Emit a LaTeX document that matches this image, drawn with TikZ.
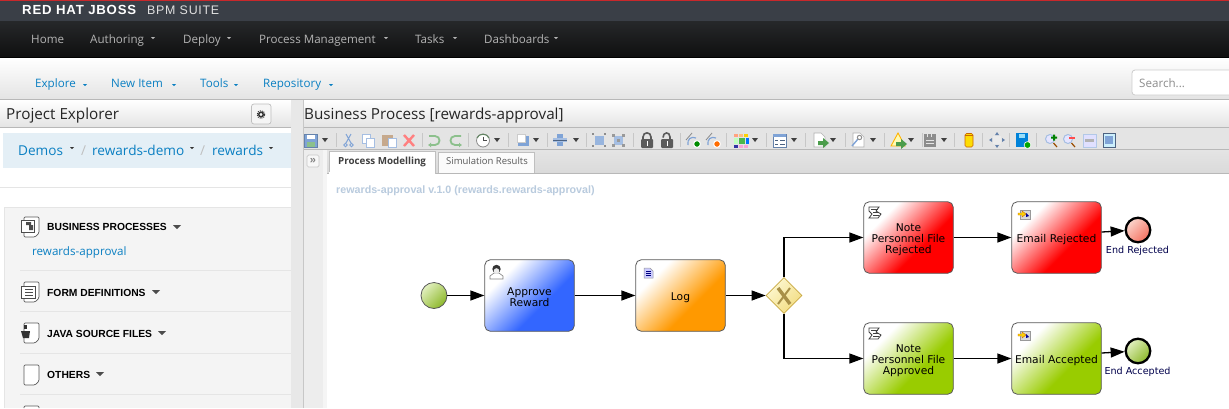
\documentclass[tikz,border=0pt]{standalone}
\usepackage{fontspec}
\setmainfont{Liberation Sans}
\newfontfamily\opens{Open Sans}
\newfontfamily\dejav{DejaVu Sans}
\newfontfamily\brandf[LetterSpace=6]{Liberation Sans}
\usetikzlibrary{shapes.geometric,arrows.meta}
\definecolor{linkb}{HTML}{0A7FC2}
\definecolor{navt}{HTML}{B4B4B4}
\definecolor{lineg}{HTML}{B8B8B8}
\definecolor{cbar}{HTML}{3A3F47}
\definecolor{cnavt}{HTML}{26282A}
\definecolor{cnavb}{HTML}{0F0F0F}
\definecolor{credl}{HTML}{C8282B}
\definecolor{cmenub}{HTML}{E4E4E4}
\definecolor{cband}{HTML}{E4E4E4}
\definecolor{cbandb}{HTML}{DADADA}
\definecolor{ccrumb}{HTML}{E4EFF6}
\definecolor{cpanel}{HTML}{F4F4F4}
\definecolor{cstrip}{HTML}{E8E8E8}
\definecolor{ctitle}{HTML}{B9CBDE}
\definecolor{cgold}{HTML}{C8A840}
\definecolor{cgreend}{HTML}{8DB82A}
\definecolor{cgreenl}{HTML}{E2F0C0}
\definecolor{csalmon}{HTML}{F4705F}
\definecolor{cpink}{HTML}{FBD5CC}
\definecolor{cgwl}{HTML}{FDF8D2}
\definecolor{cgwd}{HTML}{F2DC80}
\definecolor{cx}{HTML}{A89048}
\definecolor{ticon}{HTML}{7FA3D6}
\definecolor{tgreen}{HTML}{8CC08C}
\definecolor{tdark}{HTML}{5A5A5A}
\pgfdeclareverticalshading{gradr}{100bp}{rgb(0bp)=(1,0,0);rgb(40bp)=(1,0,0);rgb(70bp)=(1,1,1);rgb(100bp)=(1,1,1)}
\pgfdeclareverticalshading{gradg}{100bp}{rgb(0bp)=(0.6,0.8,0);rgb(40bp)=(0.6,0.8,0);rgb(70bp)=(1,1,1);rgb(100bp)=(1,1,1)}
\pgfdeclareverticalshading{gradb}{100bp}{rgb(0bp)=(0.2,0.4,1);rgb(40bp)=(0.2,0.4,1);rgb(70bp)=(1,1,1);rgb(100bp)=(1,1,1)}
\pgfdeclareverticalshading{grado}{100bp}{rgb(0bp)=(1,0.6,0);rgb(40bp)=(1,0.6,0);rgb(70bp)=(1,1,1);rgb(100bp)=(1,1,1)}
\tikzset{
 x=1pt,y=-1pt,
 txt/.style={inner sep=0pt,anchor=base west,font=\opens\fontsize{#1}{#1}\selectfont},
 navitem/.style={txt=11.6,text=navt},
 menuitem/.style={txt=11.6,text=linkb},
 crumb/.style={txt=13.6,text=linkb},
 heading/.style={txt=15.25,text=black!85},
 sect/.style={inner sep=0pt,anchor=base west,font=\bfseries\fontsize{10.3}{11}\selectfont,text=black},
 task/.style={draw=black!65,line width=0.8pt,rounded corners=5.5pt,minimum width=89.5pt,minimum height=71.5pt,inner sep=0pt,
   align=center,font=\dejav\fontsize{10.7}{11}\selectfont,text=black,shading=#1,shading angle=45},
 flow/.style={draw=black,line width=1.3pt,-{Triangle[length=14pt,width=10pt]}},
 endev/.style={circle,draw=black,line width=2.3pt,minimum size=24.5pt,inner sep=0pt},
 evlabel/.style={inner sep=0pt,font=\dejav\fontsize{9.6}{10}\selectfont,text=black!70!blue},
 doc/.style={draw=black!65,line width=0.7pt,fill=white,rounded corners=1.2pt},
 tsep/.style={draw=black!22,line width=0.6pt},
 hline/.style={draw=lineg,line width=1pt},
 rowline/.style={draw=black!10,line width=0.8pt},
}
\newcommand{\navcaret}[3]{\fill[#3] (#1-2,#2-1) -- (#1+2,#2-1) -- (#1,#2+1.2) -- cycle;}
\newcommand{\blackcaret}[1]{\fill[black!75] (#1-3,138) -- (#1+3,138) -- (#1,142) -- cycle;}
\newcommand{\sectcaret}[2]{\fill[black!70] (#1-4,#2-2) -- (#1+4,#2-2) -- (#1,#2+2) -- cycle;}
\newcommand{\tsepat}[1]{\draw[tsep] (#1,133) -- (#1,147);}
\newcommand{\sectdoc}[2]{\draw[doc] (#1,#2) -- ++(15,0) -- ++(0,16) -- ++(-4,4) -- ++(-11,0) -- cycle;}
\newcommand{\scripticon}[2]{\begin{scope}[shift={(#1,#2)}]
 \draw[black!75,line width=0.8pt,fill=white] (0,0) -- (10,0) -- (7,4) -- (12,7) -- (9,11) -- (0,11) -- (3,7) -- (0,4) -- cycle;
 \draw[black!75,line width=0.6pt] (2,2) -- (9,2) (4,5) -- (10,5) (4,8) -- (10,8);
\end{scope}}
\newcommand{\sendicon}[2]{\begin{scope}[shift={(#1,#2)}]
 \fill[black!15] (2,0) rectangle (12,9);
 \draw[black!40,line width=0.4pt] (2,0) rectangle (12,9);
 \fill[blue!60!black] (8,3) -- (11,6) -- (8,7) -- cycle;
 \draw[orange!80!black,fill=yellow!70!orange,line width=0.4pt] (0,3) -- (4,3) -- (4,1) -- (8,4) -- (4,7) -- (4,5) -- (0,5) -- cycle;
\end{scope}}
\begin{document}
\begin{tikzpicture}
\useasboundingbox (0,0) rectangle (1229,408);
\fill[white] (0,0) rectangle (1229,408);
% top bars
\fill[cbar] (0,0) rectangle (1229,21);
\fill[credl] (0,0) rectangle (1229,1);
\shade[top color=cnavt,bottom color=cnavb] (0,21) rectangle (1229,57);
\fill[black] (0,57) rectangle (1229,58);
\shade[top color=white,bottom color=cmenub] (0,58) rectangle (1229,99);
\draw[hline] (0,99.5) -- (1229,99.5);
\node[inner sep=0pt,anchor=base west,text=white,font=\brandf\bfseries\fontsize{13.2}{14}\selectfont] (brand) at (22,14.5) {RED HAT JBOSS};
\node[inner sep=0pt,anchor=base west,text=white!88!black,font=\brandf\fontsize{12.4}{14}\selectfont] (suite) at (147,14.5) {BPM SUITE};
\node[navitem] (home) at (31,43.5) {Home};
\node[navitem] (auth) at (90,43.5) {Authoring};
\node[navitem] (depl) at (183,43.5) {Deploy};
\node[navitem] (proc) at (259,43.5) {Process Management};
\node[navitem] (taskm) at (415,43.5) {Tasks};
\node[navitem] (dash) at (484,43.5) {Dashboards};
\navcaret{153}{38}{navt}\navcaret{229}{38}{navt}\navcaret{386}{38}{navt}\navcaret{455}{38}{navt}\navcaret{556}{38}{navt}
\node[menuitem] (expl) at (35,87.5) {Explore};
\node[menuitem] (newi) at (111,87.5) {New Item};
\node[menuitem] (tool) at (200,87.5) {Tools};
\node[menuitem] (repo) at (263,87.5) {Repository};
\navcaret{85}{85}{linkb}\navcaret{174}{85}{linkb}\navcaret{236}{85}{linkb}\navcaret{331}{85}{linkb}
\draw[black!20,fill=white,rounded corners=3pt,line width=0.8pt] (1132,70) rectangle (1240,95);
\node[txt=11.6,text=black!45] (search) at (1139,87) {Search...};
% left panel
\shade[top color=white,bottom color=cmenub] (0,100) rectangle (291,127);
\draw[hline] (0,127.5) -- (291,127.5);
\node[heading] (pe) at (6,119.5) {Project Explorer};
\draw[black!25,fill=white!96!black,rounded corners=2.5pt,line width=0.7pt] (251.5,104) rectangle (271,124);
\draw[black!80,line width=1.4pt] (261,114.5) circle (2.3pt);
\draw[black!80,line width=1pt,dash pattern=on 1pt off 1pt] (261,114.5) circle (3.8pt);
\fill[ccrumb] (3,133) rectangle (291,168);
\node[crumb] (demos) at (18,155) {Demos};
\node[crumb,text=black!25] (s1) at (81,155) {/};
\node[crumb] (rdemo) at (92,155) {rewards-demo};
\node[crumb,text=black!25] (s2) at (200,155) {/};
\node[crumb] (rew) at (212,155) {rewards};
\navcaret{72}{148}{black!80}\navcaret{192}{148}{black!80}\navcaret{271}{148}{black!80}
\draw[rowline] (0,187.5) -- (291,187.5);
\fill[cpanel] (4,207) rectangle (291,408);
\draw[black!10,line width=0.6pt] (4,408) -- (4,207) -- (291,207);
\sectdoc{24}{217}
\draw[black!70,line width=0.6pt,fill=white] (21,220) rectangle (34,232);
\fill[black!70] (26,222) rectangle (31,225) (29,225) rectangle (33,230);
\node[sect] (bp) at (47,230.5) {BUSINESS PROCESSES};
\sectcaret{177}{227}
\node[txt=11.6,text=linkb] (ra) at (32,255.5) {rewards-approval};
\draw[rowline] (20,270.5) -- (291,270.5);
\sectdoc{24}{282}
\draw[black!70,line width=0.6pt,fill=white] (21,286) rectangle (35,298);
\draw[black!70,line width=0.8pt] (25,289) -- (33,289) (25,292) -- (33,292) (25,295) -- (33,295);
\node[sect] (fd) at (47,296) {FORM DEFINITIONS};
\sectcaret{156}{292}
\draw[rowline] (20,311.5) -- (291,311.5);
\sectdoc{24}{323}
\fill[black!80] (21,331) -- (30,331) -- (29,338) -- (23,338) -- cycle;
\fill[black!80] (24,329) rectangle (27,325);
\node[sect] (js) at (47,337) {JAVA SOURCE FILES};
\sectcaret{162}{333}
\draw[rowline] (20,353.5) -- (291,353.5);
\sectdoc{24}{365}
\node[sect] (ot) at (47,378) {OTHERS};
\sectcaret{100}{374}
\draw[rowline] (20,394.5) -- (291,394.5);
\draw[doc] (24,408) -- (24,406) -- (39,406) -- (39,408);
% strip
\fill[cstrip] (291,100) rectangle (303,408);
\draw[black!22,line width=0.8pt] (303.5,100) -- (303.5,408);
% right header
\shade[top color=white,bottom color=cmenub] (304,100) rectangle (1229,127);
\draw[hline] (304,127.5) -- (1229,127.5);
\node[heading] (bpt) at (304,119.5) {Business Process [rewards-approval]};
% toolbar
\fill[cband] (304,128) rectangle (1229,149);
\draw[hline] (304,149.5) -- (1229,149.5);
\shade[top color=cband,bottom color=cbandb] (304,150) rectangle (1229,173);
\draw[hline] (327,173) -- (1229,173);
\fill[black!7] (304,150) rectangle (323,408);
\fill[white!96!black] (323,150) rectangle (327,408);
\fill[white] (327,174) rectangle (1229,408);
% toolbar icons
\draw[ticon!80!black,fill=ticon,line width=0.6pt] (304.5,134) rectangle (317.5,147);
\fill[white] (307,134.5) rectangle (315,139);
\fill[tgreen] (307,142) rectangle (315,146.5);
\blackcaret{325}\tsepat{336}
\draw[ticon,line width=1pt] (351,134) -- (346,143) (346,134) -- (351,143);
\draw[ticon,line width=0.9pt] (345.5,145) circle (1.7pt) (351.5,145) circle (1.7pt);
\draw[ticon!70,fill=white,line width=0.6pt] (362,134) rectangle (370,143);
\draw[ticon!70,fill=white,line width=0.6pt] (366,138) rectangle (374,147);
\fill[orange!50!black!45] (382,135) rectangle (393,146);
\draw[ticon!70,fill=white,line width=0.6pt] (388,138) rectangle (396,147);
\draw[red!50!white,line width=2.4pt] (404,135) -- (414,146) (414,135) -- (404,146);
\tsepat{422}
\draw[tgreen,line width=1.8pt,-{Latex[length=3pt,width=5pt]}] (429,136) -- (435,136) .. controls (441,136) and (441,145) .. (435,145) -- (428,145);
\draw[tgreen,line width=1.8pt,-{Latex[length=3pt,width=5pt]}] (461,136) -- (455,136) .. controls (449,136) and (449,145) .. (455,145) -- (462,145);
\tsepat{468}
\draw[black!45,fill=white,line width=0.8pt] (483,140.5) circle (6.5pt);
\draw[tgreen!70!black,line width=1pt] (477,138) .. controls (479,133) and (487,133) .. (489,138);
\draw[black!70,line width=0.7pt] (483,136.5) -- (483,140.5) -- (487,140.5);
\blackcaret{497}\tsepat{508}
\fill[ticon] (518,136) rectangle (529,146);
\draw[black!20,fill=white,line width=0.4pt] (517,134) rectangle (525,142);
\blackcaret{536}\tsepat{547}
\fill[ticon] (557,134) rectangle (563,146);
\fill[ticon!70] (553,138) rectangle (567,142);
\draw[ticon!60!black,line width=0.5pt] (553,140) -- (567,140);
\blackcaret{576}\tsepat{586}
\fill[ticon!80] (595,136) rectangle (604,145);
\foreach \px/\py in {593/134,605/134,593/146,605/146}{\fill[black!45] (\px-1,\py-1) rectangle (\px+1,\py+1);}
\fill[ticon!70] (614,136) rectangle (623,145);
\foreach \px/\py in {613/135,623/135,613/145,623/145,618/140}{\fill[black!40] (\px-1.5,\py-1.5) rectangle (\px+1.5,\py+1.5);}
\tsepat{633}
\fill[tdark,rounded corners=1pt] (641,139) rectangle (653,148);
\draw[tdark,line width=1.6pt] (643,140) -- (643,137) .. controls (643,131.5) and (651,131.5) .. (651,137) -- (651,140);
\fill[white] (646.5,141) rectangle (647.5,146);
\fill[tdark,rounded corners=1pt] (661,139) rectangle (673,148);
\draw[tdark,line width=1.6pt] (663,137.5) .. controls (663,131.5) and (670,131.5) .. (670,137) -- (670,140);
\fill[white] (666.5,141) rectangle (667.5,146);
\tsepat{680}
\draw[ticon,line width=1.2pt] (688,145) .. controls (687,139) and (691,136) .. (696,138);
\draw[black!45,line width=0.8pt] (686,140) -- (692,133);
\draw[white,fill=green!55!black,line width=1pt] (697,144) circle (3.4pt);
\draw[ticon,line width=1.2pt] (708,145) .. controls (707,139) and (711,136) .. (716,138);
\draw[black!45,line width=0.8pt] (706,140) -- (712,133);
\draw[white,fill=orange!85!red,line width=1pt] (717,144) circle (3.4pt);
\tsepat{726}
\fill[red!45!orange!50] (734,133.5) rectangle (737.5,136.5);\fill[orange!50] (739,133.5) rectangle (743,136.5);\fill[yellow!70!orange] (744,133.5) rectangle (748,136.5);
\fill[green!25] (734,137.5) rectangle (737.5,144);\fill[green!60!black!70] (739,137.5) rectangle (745,144);\fill[blue!55!cyan] (746,137.5) rectangle (749,144);
\fill[blue!55!black!80] (734,145) rectangle (737.5,148);\fill[magenta!35] (739,145) rectangle (743,148);\fill[magenta!35] (744,145) rectangle (748,148);
\blackcaret{755}\tsepat{766}
\draw[ticon!80!black,fill=white,line width=0.8pt] (773,134) rectangle (786,147);
\fill[ticon] (773,134) rectangle (786,137);
\draw[ticon!60!black,line width=0.7pt] (775,140) -- (778,140) (775,144) -- (778,144) (780,140) -- (785,140) (780,144) -- (785,144);
\blackcaret{794}\tsepat{805}
\draw[black!30,fill=white,line width=0.6pt] (814,133) -- (821,133) -- (825,137) -- (825,147) -- (814,147) -- cycle;
\fill[green!45!black!70] (818,141) -- (823,141) -- (823,138) -- (829,143) -- (823,148) -- (823,145) -- (818,145) -- cycle;
\blackcaret{833}\tsepat{845}
\draw[black!30,fill=white,line width=0.6pt] (853,133) -- (860,133) -- (864,137) -- (864,147) -- (853,147) -- cycle;
\draw[ticon,line width=1.4pt] (852,146) -- (858,139);
\draw[black!45,line width=1pt] (859.5,137.5) circle (2.2pt);
\blackcaret{873}\tsepat{884}
\draw[orange!60!yellow,fill=yellow!30,line width=0.9pt] (898,133) -- (905,146) -- (891,146) -- cycle;
\fill[green!45!black!70] (896,142) -- (901,142) -- (901,139) -- (907,144) -- (901,149) -- (901,146) -- (896,146) -- cycle;
\blackcaret{911}\tsepat{922}
\fill[black!45] (924,134) rectangle (936,147);
\draw[white!90!black,line width=0.7pt] (926,140) -- (934,140) (926,143) -- (934,143) (927,134) -- (927,137) (931,134) -- (931,137);
\blackcaret{944}\tsepat{954}
\fill[yellow!80!orange,rounded corners=1.5pt] (965,133.5) rectangle (973,147);
\draw[orange!80!black,line width=0.6pt,rounded corners=1.5pt] (965,133.5) rectangle (973,147);
\draw[orange!80!black,line width=0.6pt] (965,135.5) -- (973,135.5);
\tsepat{982}
\fill[black!8] (993,136) rectangle (1001,144);
\fill[ticon!80!black] (997,132) -- (999,135) -- (995,135) -- cycle (997,148) -- (999,145) -- (995,145) -- cycle (989,140) -- (992,138) -- (992,142) -- cycle (1005,140) -- (1002,138) -- (1002,142) -- cycle;
\tsepat{1009}
\fill[blue!40!cyan!85!black] (1016,133) rectangle (1028,147);
\fill[white!60!cyan] (1019,134) rectangle (1025,138);
\draw[white,fill=green!65!black,line width=0.6pt] (1027.5,145) circle (3.4pt);
\tsepat{1036}
\draw[ticon!70,fill=blue!10,line width=1pt] (1050,139) circle (4.5pt);
\fill[green!50!black] (1053,134.5) rectangle (1055,140.5) (1051,136.5) rectangle (1057,138.5);
\draw[orange!60!black,line width=1.2pt] (1053.5,143) -- (1057,147);
\draw[ticon!70,fill=blue!10,line width=1pt] (1068,139) circle (4.5pt);
\fill[red!70!white] (1069,136.5) rectangle (1075,138.5);
\draw[orange!60!black,line width=1.2pt] (1071.5,143) -- (1075,147);
\draw[ticon!60,fill=blue!12,line width=0.8pt] (1083,134) rectangle (1096,147);
\fill[black!30] (1085,139) rectangle (1094,142);
\draw[ticon!60!black,fill=cyan!20,line width=0.8pt] (1103,133.5) rectangle (1115,147);
\fill[ticon] (1105,136) rectangle (1113,144);
% tabs
\draw[black!22,fill=white!97!black,rounded corners=1.5pt,line width=0.7pt] (307,155) rectangle (319,167);
\node[inner sep=0pt,text=black!50,font=\bfseries\fontsize{11}{11}\selectfont] (coll) at (313,160.5) {»};
\draw[black!25,fill=white!85!cband,line width=0.7pt] (438,173) -- (438,152) -- (534,152) -- (534,173);
\node[txt=9.5,text=black!65] (tab2) at (446,164) {Simulation Results};
\draw[black!25,fill=white,line width=0.7pt] (329,174) -- (329,151) -- (435,151) -- (435,174);
\fill[white] (329.4,172) rectangle (434.6,175);
\node[inner sep=0pt,anchor=base west,font=\opens\bfseries\fontsize{9.8}{10}\selectfont,text=black!75] (tab1) at (338,164) {Process Modelling};
\node[inner sep=0pt,anchor=base west,font=\bfseries\fontsize{10.7}{11}\selectfont,text=ctitle] (title) at (336,193) {rewards-approval v.1.0 (rewards.rewards-approval)};
% diagram
\node[circle,draw=black!65,line width=0.8pt,minimum size=26pt,inner sep=0pt,top color=cgreenl,bottom color=cgreend,shading angle=45] (start) at (434,295.5) {};
\node[task=gradb] (appr) at (529.5,295.5) {\rule{0pt}{10.5pt}Approve\\Reward};
\node[task=grado] (logt) at (680.5,295.5) {\rule{0pt}{11.5pt}Log};
\node[diamond,draw=cgold,line width=0.8pt,minimum width=36pt,minimum height=36pt,inner sep=0pt,top color=cgwl,bottom color=cgwd,shading angle=45] (gw) at (784,295.5) {};
\draw[cx,line width=3.4pt] (778,288) -- (790,304);
\draw[cx,line width=2pt] (790,288) -- (778,304);
\node[task=gradr] (nr) at (908.5,237.5) {\rule{0pt}{11.5pt}Note\\Personnel File\\Rejected};
\node[task=gradr] (er) at (1056.5,237.5) {\rule{0pt}{11.5pt}Email Rejected};
\node[endev,top color=cpink,bottom color=csalmon,shading angle=45] (eer) at (1138,230) {};
\node[evlabel] (lr) at (1137.5,250.5) {End Rejected};
\node[task=gradg] (na) at (908.5,358.5) {\rule{0pt}{11.5pt}Note\\Personnel File\\Approved};
\node[task=gradg] (ea) at (1056.5,358.5) {\rule{0pt}{11.5pt}Email Accepted};
\node[endev,top color=cgreenl,bottom color=cgreend,shading angle=45] (eea) at (1138,351) {};
\node[evlabel] (la) at (1137.5,371.5) {End Accepted};
\draw[flow] (start) -- (appr);
\draw[flow] (appr) -- (logt);
\draw[flow] (logt) -- (gw);
\draw[flow] (gw.north) |- (nr.west);
\draw[flow] (gw.south) |- (na.west);
\draw[flow] (nr) -- (er);
\draw[flow] (na) -- (ea);
\draw[flow] ([yshift=5.5pt]er.east) -- (eer);
\draw[flow] ([yshift=5.5pt]ea.east) -- (eea);
% task icons
\begin{scope}[shift={(489,264)}]
\draw[black!50,fill=white,line width=0.6pt] (1,15) -- (1,12) -- (5,9) -- (10,9) -- (14,12) -- (14,15) -- cycle;
\fill[black!80] (7.5,5) circle (4.2pt);
\fill[white!92!black] (7.5,7) circle (2.8pt);
\end{scope}
\draw[black!40,fill=blue!20!white,line width=0.5pt] (644,268) -- (650,268) -- (653,271) -- (653,278) -- (644,278) -- cycle;
\draw[blue!50!black,line width=0.5pt] (646,271) -- (651,271) (646,273) -- (651,273) (646,275) -- (651,275);
\scripticon{869}{207}
\scripticon{869}{328}
\sendicon{1018}{210}
\sendicon{1018}{331}
\end{tikzpicture}
\end{document}
